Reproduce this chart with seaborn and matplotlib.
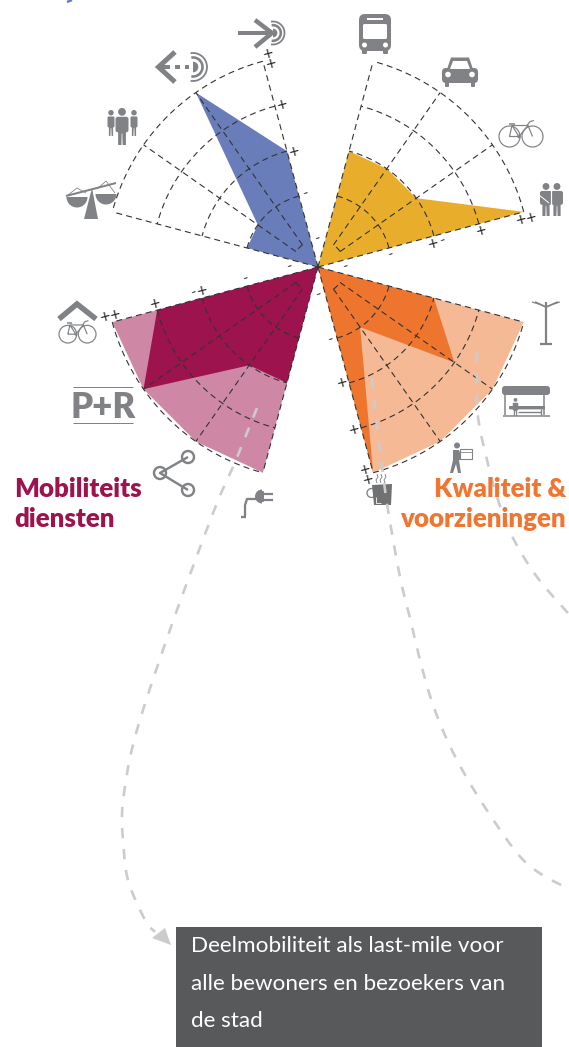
import numpy as np
import matplotlib
matplotlib.use("Agg")
import matplotlib.pyplot as plt
import matplotlib.patches as mp
import seaborn as sns

W, H = 569, 1047
CX, CY, RPX = 318, 267, 213

# chart data
yellow_angles = [15, 35, 55, 75]
blue_angles = [105, 125, 145, 165]
red_angles = [195, 215, 235, 255]
orange_angles = [285, 305, 325, 345]
yellow_values = [5, 3, 3, 3]
blue_values = [3, 5, 2, 2]
red_outer = [5, 5, 5, 5]
red_inner = [4, 5, 3, 3]
orange_outer = [5, 5, 5, 5]
orange_inner = [5, 2, 4, 3]
ring_levels = [2, 3, 4, 5]
sign_levels = [5.12, 4.9, 4, 3.15, 2.95, 2, 1]
sign_labels_a = ["+", "+", "+", "-", "+", "-", "-"]
sign_labels_blue = ["+", "+", "+", "", "+", "-", "-"]
sign_labels_orange = ["+", "+", "+", "", "+", "-", "-"]
title_red = ["Mobiliteits", "diensten"]
title_orange = ["Kwaliteit &", "voorzieningen"]
box_lines = ["Deelmobiliteit als last-mile voor", "alle bewoners en bezoekers van", "de stad"]
CENTER = 0.42

C_BLUE, C_YELLOW = "#6A7DBB", "#E8AE2B"
C_RED, C_RED_L = "#9C134E", "#CE88A6"
C_OR, C_OR_L = "#EE752D", "#F5B995"
C_ICON, C_BOX, C_SW = "#808285", "#58595B", "#CCCCCC"
C_DASH = "#333333"
FONT = "Lato"

sns.set_theme(style="white")
plt.rcParams["lines.scale_dashes"] = False
plt.rcParams["font.family"] = [FONT, "DejaVu Sans"]
fig = plt.figure(figsize=(W / 100, H / 100), dpi=100, facecolor="white")
ax = fig.add_axes([(CX - RPX) / W, (H - CY - RPX) / H, 2 * RPX / W, 2 * RPX / H], projection="polar")
ax.patch.set_alpha(0)

DASH = (0, (4.3, 3.0))


def dashed(theta_deg, levels):
    sns.lineplot(x=np.radians(theta_deg), y=levels, sort=False, estimator=None, errorbar=None,
                 color=C_DASH, linewidth=0.8, linestyle=DASH, ax=ax, zorder=5, clip_on=False)


def poly(angles, values, color, z=2):
    th = np.radians([angles[0]] + list(angles))
    r = [CENTER] + list(values)
    ax.fill(th, r, color=color, lw=0, zorder=z, clip_on=False)


poly(yellow_angles, yellow_values, C_YELLOW)
poly(blue_angles, blue_values, C_BLUE)
poly(red_angles, red_outer, C_RED_L)
poly(red_angles, red_inner, C_RED, 3)
poly(orange_angles, orange_outer, C_OR_L)
poly(orange_angles, orange_inner, C_OR, 3)

for angs in (yellow_angles, blue_angles, red_angles, orange_angles):
    for a in (angs[0], angs[3]):
        dashed([a, a], [CENTER, 5])
    for a in (angs[1], angs[2]):
        dashed([a, a], [1, 5])
    for lv in ring_levels:
        t = np.linspace(angs[0], angs[3], 40)
        dashed(t, np.full_like(t, lv, dtype=float))
    t = np.linspace(angs[1], angs[2], 10)
    dashed(t, np.full_like(t, 1.0))

for angs, labels in ((yellow_angles, sign_labels_a), (blue_angles, sign_labels_blue),
                     (red_angles, sign_labels_a), (orange_angles, sign_labels_orange)):
    a0 = angs[0]
    for lv, lb in zip(sign_levels, labels):
        if not lb:
            continue
        off = 7
        ax.annotate(lb, (np.radians(a0), lv),
                    xytext=(off * np.sin(np.radians(a0)), -off * np.cos(np.radians(a0))),
                    textcoords="offset pixels", ha="center", va="center", fontsize=10,
                    rotation=15, color="#222222", family="DejaVu Sans", zorder=6,
                    annotation_clip=False)

ax.set_ylim(CENTER, 5)
ax.set_xlabel("")
ax.set_ylabel("")
ax.axis("off")

# overlay in pixel space for pictograms and annotation
ov = fig.add_axes([0, 0, 1, 1], facecolor="none")
ov.set_xlim(0, W)
ov.set_ylim(H, 0)
ov.axis("off")
ov.set_zorder(10)


def pl(xs, ys, lw=2, c=C_ICON, **k):
    k.setdefault("solid_capstyle", "butt")
    ov.plot(xs, ys, color=c, lw=lw * 0.72, **k)


def fl(pts, c=C_ICON, **k):
    ov.add_patch(mp.Polygon(pts, closed=True, fc=c, ec="none", **k))


def rr(x, y, w, h, rad, c=C_ICON):
    ov.add_patch(mp.FancyBboxPatch((x + rad, y + rad), w - 2 * rad, h - 2 * rad,
                                   boxstyle=f"round,pad={rad}", fc=c, ec="none"))


def circ(x, y, r, c=C_ICON):
    ov.add_patch(mp.Circle((x, y), r, fc=c, ec="none"))


def ring(x, y, r, lw=2, c=C_ICON):
    ov.add_patch(mp.Circle((x, y), r, fc="none", ec=c, lw=lw * 0.72))


def arc(x, y, r, a0, a1, lw=2, c=C_ICON):
    ov.add_patch(mp.Arc((x, y), 2 * r, 2 * r, theta1=a0, theta2=a1, ec=c, lw=lw * 0.72))


def wedge(x, y, r, a0, a1, c=C_ICON):
    ov.add_patch(mp.Wedge((x, y), r, a0, a1, fc=c, ec="none"))


def target(x, y, big):
    arc(x, y, big, -100, 100, 1.8)
    arc(x, y, big * 0.68, -100, 100, 2.6)
    wedge(x, y, big * 0.38, -90, 90)


def bike(x0, y0, w):
    s = w / 44
    r = 10.5 * s
    lx, rx = x0 + r, x0 + w - r
    yw = y0 + 25 * s - r
    ring(lx, yw, r, 1.2)
    ring(rx, yw, r, 1.2)
    mx = x0 + 20 * s
    tx, ty = x0 + 13 * s, yw - 11 * s
    hx, hy = x0 + 29 * s, yw - 11 * s
    pl([lx, mx, hx, tx, lx], [yw, yw, hy, ty, yw], 1.2)
    pl([tx, mx], [ty, yw], 1.2)
    pl([hx, rx], [hy, yw], 1.2)
    pl([tx - 3 * s, tx + 3 * s], [ty - 2 * s, ty - 2 * s], 1.5)
    pl([hx - 1 * s, hx + 2 * s, hx + 6 * s], [hy, hy - 4 * s, hy - 5 * s], 1.2)
    circ(mx, yw, 1.8 * s)


def person(x, head_y, h, w, c=C_ICON):
    r = h * 0.105
    circ(x, head_y + r, r, c)
    top = head_y + 2 * r + 1
    rr(x - w / 2, top, w, h * 0.42, w * 0.18, c)
    fl([(x - w * 0.3, top + h * 0.3), (x + w * 0.3, top + h * 0.3),
        (x + w * 0.3, head_y + h), (x + 0.6, head_y + h), (x + 0.3, top + h * 0.45),
        (x - 0.3, top + h * 0.45), (x - 0.6, head_y + h), (x - w * 0.3, head_y + h)], c)


# arrow with target (top)
pl([238, 270], [33, 33], 4)
pl([255, 272, 255], [20, 33, 47], 4.5, solid_joinstyle="miter")
target(273, 33, 11.5)
# arrow leaving target
pl([175, 158.5, 175], [52, 67, 82], 5, solid_joinstyle="miter")
pl([160, 170], [67, 67], 4)
pl([175, 180], [67, 67], 4)
pl([185, 189], [67, 67], 4)
target(193, 67, 14)
# people
person(122, 108, 37, 13)
person(111, 110, 26, 7)
person(134, 110, 26, 7)
# scales
fl([(92, 188), (98, 219), (84, 219)])
pl([66, 116], [196, 183], 2)
pl([68, 77, 86], [195, 188, 193], 0.8)
wedge(77, 197, 10.5, 0, 180)
pl([97, 106, 115], [189, 181, 193], 0.8)
wedge(106, 194, 10.5, 0, 180)
# bus
rr(359, 14, 32, 37, 6)
rr(362, 49, 5, 5, 1)
rr(383, 49, 5, 5, 1)
rr(363, 24, 24, 15, 1.5, "white")
pl([367, 383], [19, 19], 2, "white")
circ(364.5, 45, 2.5, "white")
circ(385.5, 45, 2.5, "white")
# car
fl([(446, 72), (451, 57.5), (469, 57.5), (474, 72)])
rr(442, 68, 36, 15, 4)
rr(445, 80, 4, 7, 1)
rr(471, 80, 4, 7, 1)
fl([(450, 69), (453, 61), (467, 61), (470, 69)], "white")
circ(448, 74.5, 2.8, "white")
circ(472, 74.5, 2.8, "white")
# bikes
bike(499, 122, 44)
bike(59, 322, 37)
pl([59, 77, 96], [319, 304, 319], 5.5, solid_joinstyle="miter")
# couple
person(546, 183, 33, 12)
person(557, 183, 33, 12)
pl([539, 549], [195, 203], 1, "white")
pl([551.5, 551.5], [190, 216], 1.2, "white")
# lamp
pl([546, 546], [302, 344], 2.2)
pl([540, 552], [344, 344], 2.2)
pl([535, 546, 558], [302, 307, 302], 1.8)
pl([532, 539], [302, 304], 1.2)
pl([553, 560], [304, 302], 1.2)
# shelter
rr(502, 386, 48, 9, 3)
pl([503, 550], [415.5, 415.5], 1.5)
pl([505, 505], [394, 415], 1.5)
pl([544, 544], [394, 415], 1.5)
person(515.5, 398, 18, 5.5)
rr(509, 406, 36, 3.4, 1)
pl([518, 541], [412, 412], 1.4)
pl([541, 541], [409, 415], 1.4)
# carrier with box
circ(457, 445.5, 3)
fl([(453, 450), (459, 450), (461, 456), (469, 456), (469, 459), (459, 460), (461, 473),
    (458, 473), (456, 464), (453, 473), (450, 473), (453, 460)])
ov.add_patch(mp.Rectangle((460, 449), 12.5, 10, fc="white", ec=C_ICON, lw=0.8))
pl([460, 472.5], [452, 452], 0.8)
# coffee
ring(371.5, 493, 4.5, 1.3)
fl([(372, 485), (392, 484), (391, 505), (374, 505)], "#707173")
pl([376, 376, 381], [497, 503, 503], 0.8, "white")
for xo in (377, 381, 385):
    yy = np.array([474, 477, 480, 483])
    pl(xo + np.array([0, 1, -1, 0]), yy, 0.9)
# plug
pl([245, 245, 247, 256], [516, 505, 499, 499], 2.3)
pl([241, 246], [517, 517], 2.3)
wedge(262, 496.5, 7, 90, 270)
rr(260, 491, 4, 11, 1)
pl([262, 273], [493.5, 493.5], 2.2)
pl([262, 273], [499.5, 499.5], 2.2)
# share
pl([188, 160, 188], [457, 473, 490], 2.4)
for xx, yy in ((160, 473), (188, 457), (188, 490)):
    circ(xx, yy, 6, "white")
    ring(xx, yy, 6, 2.4)
# P+R
pl([73, 133], [387, 387], 1)
pl([73, 133], [422.5, 422.5], 1)
ov.text(103, 418, "P+R", ha="center", va="baseline", fontsize=25, fontweight="heavy",
        color=C_ICON, family="Lato")
# stub at the top edge
pl([67, 72], [2, 0], 2.5, C_BLUE)


def catmull(pts, n=24):
    p = np.array(pts, float)
    p = np.vstack([2 * p[0] - p[1], p, 2 * p[-1] - p[-2]])
    out = []
    for i in range(1, len(p) - 2):
        for t in np.linspace(0, 1, n, endpoint=False):
            out.append(0.5 * ((2 * p[i]) + (-p[i - 1] + p[i + 1]) * t
                              + (2 * p[i - 1] - 5 * p[i] + 4 * p[i + 1] - p[i + 2]) * t ** 2
                              + (-p[i - 1] + 3 * p[i] - 3 * p[i + 1] + p[i + 2]) * t ** 3))
    out.append(p[-2])
    return np.array(out)


swoosh_a = [(257, 408), (236, 460), (217, 503), (185, 588), (163, 650), (143, 710), (131, 753),
            (124, 793), (122, 815), (123, 840), (128, 880), (145, 920), (155, 932)]
swoosh_b = [(372, 378), (377, 427), (382, 467), (388, 510), (400, 577), (410, 618), (420, 660),
            (432, 702), (448, 742), (468, 780), (492, 818), (517, 853), (535, 870), (557, 883), (572, 889)]
swoosh_c = [(477, 352), (477, 377), (478, 417), (487, 460), (498, 500), (513, 538), (537, 577),
            (567, 612), (575, 620)]
for s in (swoosh_a, swoosh_b, swoosh_c):
    c = catmull(s)
    ov.plot(c[:, 0], c[:, 1], color=C_SW, lw=1.9, linestyle=(0, (7.4, 7.8)), dash_capstyle="butt")
fl([(152, 938), (165, 928), (171, 945)], C_SW)

# titles
for yy, line in zip((497, 527), title_red):
    ov.text(14, yy, line, ha="left", va="baseline", fontsize=18.6, fontweight="heavy", color=C_RED)
for yy, line in zip((497, 527), title_orange):
    ov.text(566, yy, line, ha="right", va="baseline", fontsize=18.6, fontweight="heavy", color="#F07530")

# text box
ov.add_patch(mp.Rectangle((176, 927), 366, 120, fc=C_BOX, ec="none"))
for yy, line in zip((952, 990, 1027), box_lines):
    ov.text(191, yy, line, ha="left", va="baseline", fontsize=16.2, color="white")

fig.savefig("out.png", dpi=100, facecolor="white")
